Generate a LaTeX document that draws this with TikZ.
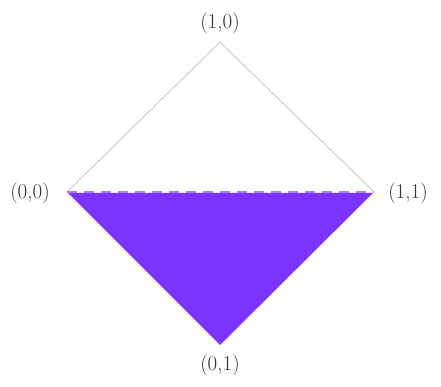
\documentclass[tikz,border=0pt]{standalone}
\definecolor{vio}{RGB}{123,52,255}
\definecolor{edge}{RGB}{200,200,200}
\tikzset{
  lbl/.style={font=\fontsize{21}{24}\selectfont, text=black!80, inner sep=0pt},
  rim/.style={draw=edge, line width=0.9pt},
  half/.style={fill=vio, draw=none},
  cut/.style={draw=vio!65, line width=2pt, dash pattern=on 10pt off 7pt}
}
\begin{document}
\begin{tikzpicture}[x=1pt,y=-1pt]
\useasboundingbox (0,0) rectangle (441,387);
\coordinate (T) at (220,42);
\coordinate (L) at (67,192);
\coordinate (R) at (374,192);
\coordinate (B) at (220,345);
\coordinate (L2) at (68,193);
\coordinate (R2) at (373,193);
\fill[half] (L2) -- (R2) -- (B) -- cycle;
\draw[rim] (L) -- (T) -- (R);
\draw[cut] (L) -- (R);
\node[lbl] (n10) at (220,23) {(1,0)};
\node[lbl] (n00) at (30,193) {(0,0)};
\node[lbl] (n11) at (408,193) {(1,1)};
\node[lbl] (n01) at (220,365) {(0,1)};
\end{tikzpicture}
\end{document}
